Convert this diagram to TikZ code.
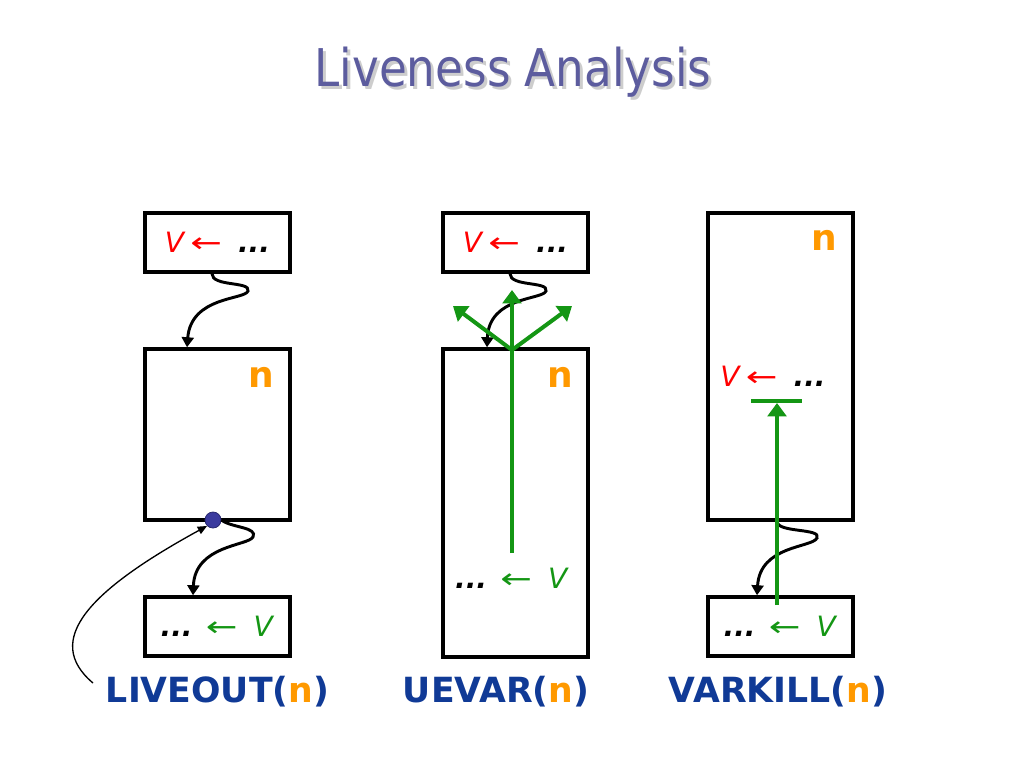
\documentclass[tikz,border=0pt]{standalone}
\usepackage{fontspec}
\setmainfont{DejaVu Sans}
\usetikzlibrary{arrows.meta,calc}
\definecolor{gr}{RGB}{20,150,20}
\definecolor{rd}{RGB}{255,0,0}
\definecolor{orng}{RGB}{255,153,0}
\definecolor{lblue}{RGB}{16,58,150}
\definecolor{ttl}{RGB}{92,92,158}
\definecolor{shd}{RGB}{205,205,205}
\definecolor{dotc}{RGB}{58,58,158}
\newcommand{\larr}{\scalebox{1.35}[1]{←}}
\newcommand{\dts}{\textbf{\textit{...}}}
\newcommand{\ttltext}{\scalebox{0.87}[1]{Liveness Analysis}}
\tikzset{
  box/.style={draw=black, line width=2.6pt, fill=white, inner sep=0pt, font=\fontsize{21}{24}\selectfont},
  nlab/.style={text=orng, font=\fontsize{27}{30}\selectfont\bfseries, inner sep=0pt},
  btxt/.style={font=\fontsize{21}{24}\selectfont, inner sep=0pt},
  lab/.style={text=lblue, font=\fontsize{26}{30}\selectfont\bfseries, inner sep=0pt, anchor=base},
  wavy/.style={draw=black, line width=2.2pt, -{Triangle[length=7.5pt,width=9pt]}},
  garrow/.style={draw=gr, line width=3pt, -{Triangle[length=10pt,width=14pt]}},
  thin/.style={draw=black, line width=1pt, -{Triangle[length=7pt,width=6pt]}}
}
\begin{document}
\begin{tikzpicture}[x=0.75pt,y=-0.75pt]
\useasboundingbox (0,0) rectangle (1024,768);
% title with drop shadow (one node)
\node[text=ttl, font=\fontsize{39}{45}\selectfont, inner sep=0pt, anchor=base] (title) at (513,86)
  {\makebox[0pt][l]{\kern2.25pt\raisebox{-2.25pt}{\color{shd}\ttltext}}\ttltext};

% ---------- column 1 ----------
\node[box, minimum width=108.75pt, minimum height=44.25pt] (a1) at (217.5,242.5)
  {{\color{rd}\textit{V}\,\larr}\hspace{12pt}\dts\hspace{6pt}};
\node[box, minimum width=108.75pt, minimum height=128.25pt] (b1) at (217.5,434.5) {};
\node[box, minimum width=108.75pt, minimum height=44.25pt] (c1) at (217.5,626.5)
  {\dts\hspace{10pt}{\color{gr}\larr\hspace{12pt}\textit{V}}};
\node[nlab] (n1) at (261,377) {n};
\node[circle, fill=dotc, draw=dotc!70!black, line width=0.6pt, minimum size=12pt, inner sep=0pt] (dot) at (213,520) {};
\node[lab] (l1) at (217.5,702) {LIVEOUT(\textcolor{orng}{n})};

\draw[wavy] ($(a1.south)+(-5.5,0)$) .. controls (212,287) and (251,281) .. (248,291)
   .. controls (245,300) and (191,296) .. ($(b1.north)+(-30.5,0)$);
\draw[wavy] (dot.east) .. controls (232,528) and (258,527) .. (253,537)
   .. controls (248,546) and (195,545) .. ($(c1.north)+(-24.5,0)$);
\coordinate (l1s) at (93,683);
\draw[thin] (l1s) .. controls (42,640) and (90,590) .. (dot.south west);

% ---------- column 2 ----------
\node[box, minimum width=108.75pt, minimum height=44.25pt] (a2) at (515.5,242.5)
  {{\color{rd}\textit{V}\,\larr}\hspace{12pt}\dts\hspace{6pt}};
\node[box, minimum width=108.75pt, minimum height=231pt] (b2) at (515.5,503) {};
\node[nlab] (n2) at (560,377) {n};
\node[btxt] (t2) at (512,578) {\dts\hspace{10pt}{\color{gr}\larr\hspace{12pt}\textit{V}}};
\node[lab] (l2) at (496,702) {UEVAR(\textcolor{orng}{n})};

\draw[wavy] ($(a2.south)+(-5.5,0)$) .. controls (510,287) and (549,281) .. (546,291)
   .. controls (543,300) and (489,296) .. ($(b2.north)+(-28.5,0)$);
\coordinate (g2s) at (512,553);
\coordinate (g2c) at (512,350);
\coordinate (g2t) at (512,290);
\coordinate (g2l) at (453,306);
\coordinate (g2r) at (572,306);
\draw[garrow] (g2s) -- (g2t);
\draw[garrow] (g2c) -- (g2l);
\draw[garrow] (g2c) -- (g2r);

% ---------- column 3 ----------
\node[box, minimum width=108.75pt, minimum height=230.25pt] (b3) at (780.5,366.5) {};
\node[box, minimum width=108.75pt, minimum height=44.25pt] (c3) at (780.5,626.5)
  {\dts\hspace{10pt}{\color{gr}\larr\hspace{12pt}\textit{V}}};
\node[nlab] (n3) at (824.5,240) {n};
\node[btxt] (t3) at (773,376) {{\color{rd}\textit{V}\,\larr}\hspace{12pt}\dts};
\node[lab] (l3) at (778,702) {VARKILL(\textcolor{orng}{n})};

\draw[wavy] ($(b3.south)+(-3.5,0)$) .. controls (778,533) and (822,528) .. (817,538)
   .. controls (812,548) and (760,545) .. ($(c3.north)+(-23.5,0)$);
\coordinate (barl) at (751,401);
\coordinate (barr) at (802,401);
\draw[draw=gr, line width=3pt] (barl) -- (barr);
\coordinate (g3s) at (777,605);
\coordinate (g3t) at (777,403);
\draw[garrow] (g3s) -- (g3t);
\end{tikzpicture}
\end{document}
